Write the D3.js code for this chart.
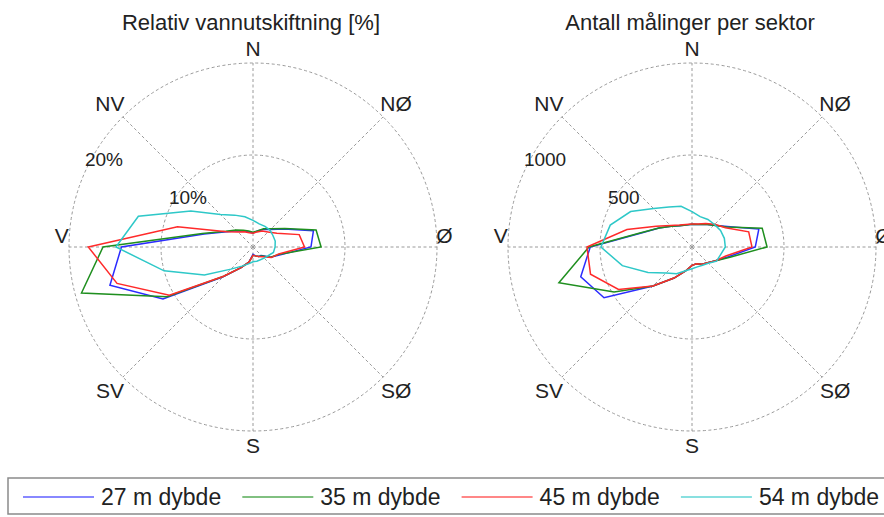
<!DOCTYPE html>
<html>
<head>
<meta charset="utf-8">
<script src="https://cdn.jsdelivr.net/npm/d3@7"></script>
<style>
  body { margin: 0; background: #fff; }
  text { font-family: "Liberation Sans", Arial, sans-serif; fill: #222; }
</style>
</head>
<body>
<div id="chart"></div>
<script>
// sector bearings (degrees, clockwise from north)
var sectors = [0, 15, 30, 45, 60, 75, 90, 105, 120, 135, 150, 165,
               180, 195, 210, 225, 240, 255, 270, 285, 300, 315, 330, 345];

var compassLabels = ["N", "NØ", "Ø", "SØ", "S", "SV", "V", "NV"];
var compassAngles = [0, 45, 90, 135, 180, 225, 270, 315];

var seriesNames = ["27 m dybde", "35 m dybde", "45 m dybde", "54 m dybde"];

// relative water exchange [%]
var pct27 = [1.5, 1.8, 2.2, 2.7, 3.9, 6.8, 6.3, 3.2, 2.2, 1.3, 1.2, 1.0,
             0.8, 1.7, 2.6, 4.6, 11.3, 16.1, 14.3, 5.5, 3.3, 2.5, 2.0, 1.7];
var pct35 = [1.6, 1.8, 2.3, 2.8, 4.0, 7.1, 7.4, 3.0, 2.2, 1.4, 1.2, 1.0,
             0.9, 1.7, 2.6, 4.5, 10.8, 19.3, 16.3, 5.7, 3.4, 2.6, 2.1, 1.8];
var pct45 = [1.5, 1.7, 2.0, 2.3, 3.0, 5.2, 5.6, 2.9, 2.3, 1.5, 1.2, 1.0,
             0.9, 1.7, 2.6, 4.5, 10.5, 15.3, 17.9, 8.5, 3.3, 2.3, 1.9, 1.6];
var pct54 = [2.9, 2.6, 2.6, 2.6, 2.5, 2.5, 2.4, 2.3, 1.9, 1.7, 1.6, 1.6,
             1.6, 1.9, 2.4, 3.4, 6.1, 10.0, 14.9, 12.9, 7.8, 5.0, 4.0, 3.4];

// number of measurements per sector
var cnt27 = [123, 127, 142, 167, 222, 376, 344, 205, 149, 120, 108, 94,
             100, 135, 195, 300, 552, 626, 553, 290, 207, 159, 134, 124];
var cnt35 = [123, 127, 142, 167, 217, 395, 408, 214, 149, 120, 108, 94,
             100, 135, 195, 300, 489, 749, 560, 293, 207, 159, 134, 124];
var cnt45 = [125, 130, 148, 175, 210, 319, 326, 190, 149, 120, 108, 94,
             100, 135, 195, 300, 461, 571, 571, 366, 225, 165, 138, 127];
var cnt54 = [192, 171, 173, 173, 179, 182, 181, 161, 154, 125, 114, 112,
             118, 134, 168, 200, 276, 392, 495, 460, 385, 295, 251, 229];

var pctRings = [10, 20];
var pctRingLabels = ["10%", "20%"];
var cntRings = [500, 1000];
var cntRingLabels = ["500", "1000"];

var colors = ["#2b2bff", "#1f8f1f", "#ff2a2a", "#2ec8c8"];

var width = 884, height = 517, R = 184;

var svg = d3.select("#chart").append("svg")
    .attr("width", width)
    .attr("height", height);

var panels = [
    {cx: 253, cy: 247, title: "Relativ vannutskiftning [%]",
     series: [pct27, pct35, pct45, pct54], rings: pctRings, ringLabels: pctRingLabels},
    {cx: 692, cy: 247, title: "Antall målinger per sektor",
     series: [cnt27, cnt35, cnt45, cnt54], rings: cntRings, ringLabels: cntRingLabels}
];

function rad(deg) { return deg * Math.PI / 180; }

panels.forEach(function (p) {
    var r = d3.scaleLinear()
        .domain([0, d3.max(p.rings)])
        .range([0, R]);

    var g = svg.append("g")
        .attr("transform", "translate(" + p.cx + "," + p.cy + ")");

    // title
    svg.append("text")
        .attr("x", p.cx - 2)
        .attr("y", 30)
        .attr("text-anchor", "middle")
        .style("font-size", "22px")
        .text(p.title);

    // rings
    g.selectAll("circle.ring")
        .data(p.rings)
        .enter().append("circle")
        .attr("class", "ring")
        .attr("r", function (d) { return r(d); })
        .attr("fill", "none")
        .attr("stroke", "#9a9a9a")
        .attr("stroke-width", 1)
        .attr("stroke-dasharray", "3,2.5");

    // spokes
    g.selectAll("line.spoke")
        .data(compassAngles)
        .enter().append("line")
        .attr("class", "spoke")
        .attr("x1", 0).attr("y1", 0)
        .attr("x2", function (d) { return R * Math.sin(rad(d)); })
        .attr("y2", function (d) { return -R * Math.cos(rad(d)); })
        .attr("stroke", "#9a9a9a")
        .attr("stroke-width", 1)
        .attr("stroke-dasharray", "3,2.5");

    // compass labels
    function labR(a) {
        if (a === 90 || a === 270) return R * 1.04;
        if (a === 0 || a === 180) return R * 1.08;
        return R * 1.1;
    }
    g.selectAll("text.dir")
        .data(compassLabels)
        .enter().append("text")
        .attr("class", "dir")
        .attr("x", function (d, i) {
            var a = compassAngles[i];
            return labR(a) * Math.sin(rad(a));
        })
        .attr("y", function (d, i) {
            var a = compassAngles[i];
            var shift = (a === 90 || a === 270) ? -12 : 0;
            return -labR(a) * Math.cos(rad(a)) + shift;
        })
        .attr("text-anchor", "middle")
        .attr("dominant-baseline", "central")
        .style("font-size", "21px")
        .text(function (d) { return d; });

    // ring labels
    var labelAngle = 294;
    g.selectAll("text.ringlab")
        .data(p.ringLabels)
        .enter().append("text")
        .attr("class", "ringlab")
        .attr("x", function (d, i) { return r(p.rings[i]) * Math.sin(rad(labelAngle)); })
        .attr("y", function (d, i) { return -r(p.rings[i]) * Math.cos(rad(labelAngle)) - 6; })
        .style("font-size", "19px")
        .text(function (d) { return d; });

    // series
    var line = d3.lineRadial()
        .angle(function (d, i) { return rad(sectors[i]); })
        .radius(function (d) { return r(d); })
        .curve(d3.curveLinearClosed);

    g.selectAll("path.series")
        .data(p.series)
        .enter().append("path")
        .attr("class", "series")
        .attr("d", line)
        .attr("fill", "none")
        .attr("stroke", function (d, i) { return colors[i]; })
        .attr("stroke-width", 1.5)
        .attr("stroke-linejoin", "miter");
});

// legend
var legend = svg.append("g");
legend.append("rect")
    .attr("x", 8).attr("y", 478)
    .attr("width", 900).attr("height", 36)
    .attr("fill", "#fff")
    .attr("stroke", "#8a8a8a")
    .attr("stroke-width", 1.5);

var item = legend.selectAll("g.item")
    .data(seriesNames)
    .enter().append("g")
    .attr("class", "item")
    .attr("transform", function (d, i) { return "translate(" + (23 + i * 219.3) + ",497)"; });

item.append("line")
    .attr("x1", 0).attr("x2", 71)
    .attr("y1", 0).attr("y2", 0)
    .attr("stroke", function (d, i) { return colors[i]; })
    .attr("stroke-opacity", 0.75)
    .attr("stroke-width", 1.5);

item.append("text")
    .attr("x", 78)
    .attr("y", 0)
    .attr("dominant-baseline", "central")
    .style("font-size", "23px")
    .text(function (d) { return d; });
</script>
</body>
</html>
